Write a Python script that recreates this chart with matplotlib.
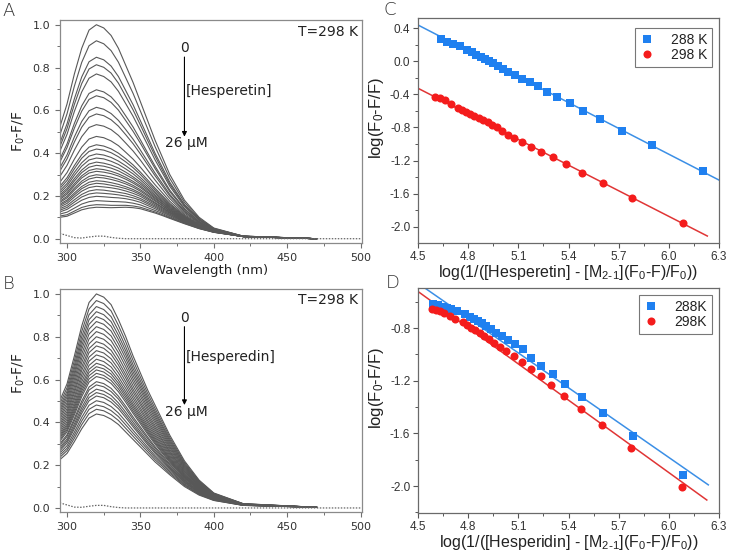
import matplotlib
matplotlib.use('Agg')
import matplotlib.pyplot as plt
import numpy as np
from matplotlib.ticker import MultipleLocator

plt.rcParams['axes.unicode_minus'] = False
plt.rcParams['font.family'] = ['DejaVu Sans']

# ---------------- data: fluorescence spectra (panels A, B) ----------------
wavelength = [295, 300, 305, 310, 315, 320, 325, 330, 335, 340, 345, 350, 355,
              360, 365, 370, 380, 390, 400, 420, 470]

hesperetin_spectra = [
    [.520, .630, .770, .890, .975, 1.00, .985, .950, .890, .810, .730, .640, .550, .460, .380, .300, .180, .100, .050, .012, 0],
    [.483, .584, .713, .824, .902, .925, .911, .879, .825, .752, .679, .596, .513, .430, .356, .282, .170, .095, .048, .012, 0],
    [.445, .537, .654, .756, .827, .848, .836, .807, .758, .692, .626, .551, .475, .399, .332, .264, .160, .091, .046, .012, 0],
    [.428, .515, .628, .725, .793, .813, .801, .774, .727, .665, .602, .531, .458, .386, .320, .255, .156, .088, .046, .012, 0],
    [.407, .488, .595, .686, .750, .770, .758, .733, .689, .631, .572, .505, .437, .368, .307, .245, .150, .086, .045, .011, 0],
    [.370, .443, .539, .621, .679, .696, .686, .663, .625, .574, .522, .462, .400, .339, .283, .227, .141, .081, .043, .011, 0],
    [.357, .426, .517, .596, .651, .668, .659, .637, .601, .552, .502, .446, .387, .328, .274, .220, .137, .079, .042, .011, 0],
    [.330, .392, .476, .548, .598, .614, .605, .585, .553, .510, .465, .414, .360, .306, .257, .207, .130, .076, .041, .011, 0],
    [.315, .373, .452, .521, .568, .583, .575, .556, .526, .486, .444, .396, .345, .294, .247, .200, .126, .074, .040, .011, 0],
    [.290, .343, .414, .477, .520, .533, .526, .510, .483, .447, .410, .367, .320, .274, .231, .188, .120, .071, .039, .011, 0],
    [.263, .309, .372, .428, .466, .478, .472, .457, .435, .404, .372, .334, .293, .252, .214, .175, .113, .068, .038, .011, 0],
    [.244, .285, .342, .393, .428, .439, .433, .420, .400, .374, .345, .311, .274, .236, .201, .165, .108, .065, .037, .011, 0],
    [.234, .272, .327, .376, .408, .419, .414, .402, .383, .359, .332, .300, .264, .228, .195, .160, .105, .064, .036, .011, 0],
    [.223, .258, .310, .355, .386, .396, .391, .380, .363, .341, .316, .286, .253, .219, .187, .155, .102, .062, .036, .011, 0],
    [.213, .247, .296, .339, .368, .377, .373, .362, .347, .326, .303, .275, .243, .212, .181, .150, .100, .061, .035, .011, 0],
    [.204, .235, .281, .321, .349, .358, .353, .344, .330, .311, .289, .264, .234, .204, .175, .146, .097, .060, .035, .010, 0],
    [.197, .226, .270, .309, .334, .343, .339, .330, .317, .299, .280, .255, .227, .198, .171, .142, .095, .059, .035, .010, 0],
    [.189, .216, .257, .294, .319, .327, .323, .315, .303, .287, .268, .246, .219, .192, .165, .138, .093, .058, .034, .010, 0],
    [.183, .208, .248, .284, .307, .315, .311, .304, .293, .278, .260, .239, .213, .187, .162, .135, .092, .057, .034, .010, 0],
    [.175, .198, .236, .269, .291, .299, .295, .288, .278, .265, .249, .229, .205, .181, .156, .131, .090, .056, .034, .010, 0],
    [.169, .191, .227, .259, .279, .287, .284, .277, .268, .256, .241, .222, .199, .176, .153, .129, .088, .056, .033, .010, 0],
    [.161, .181, .214, .244, .264, .271, .268, .262, .254, .243, .230, .213, .191, .169, .147, .125, .086, .055, .033, .010, 0],
    [.155, .174, .205, .234, .252, .259, .256, .250, .243, .234, .222, .206, .185, .165, .144, .122, .084, .054, .033, .010, 0],
    [.148, .165, .195, .222, .239, .245, .242, .238, .232, .223, .212, .198, .178, .159, .139, .119, .083, .053, .032, .010, 0],
    [.140, .155, .182, .207, .223, .229, .227, .222, .217, .211, .201, .188, .170, .153, .134, .115, .081, .052, .032, .010, 0],
    [.133, .146, .171, .195, .209, .214, .212, .209, .205, .199, .191, .180, .163, .147, .129, .111, .079, .051, .032, .010, 0],
    [.125, .137, .159, .180, .193, .198, .196, .193, .191, .187, .180, .170, .155, .140, .124, .107, .077, .050, .031, .010, 0],
    [.115, .124, .143, .162, .173, .178, .176, .174, .173, .171, .166, .158, .145, .132, .118, .102, .074, .049, .031, .010, 0],
    [.106, .112, .129, .146, .155, .159, .158, .156, .156, .156, .153, .147, .136, .125, .112, .098, .072, .048, .030, .010, 0],
    [.100, .105, .120, .135, .143, .147, .146, .145, .146, .147, .145, .140, .130, .120, .108, .095, .070, .047, .030, .010, 0],
]

hesperidin_spectra = [
    [.500, .580, .710, .850, .960, 1.00, .985, .950, .880, .800, .710, .630, .550, .480, .410, .340, .220, .130, .070, .020, .003],
    [.485, .562, .688, .824, .930, .969, .955, .921, .853, .776, .689, .611, .534, .465, .398, .330, .213, .126, .068, .020, .003],
    [.471, .546, .668, .800, .903, .941, .927, .894, .829, .753, .669, .594, .519, .452, .386, .321, .207, .123, .066, .019, .003],
    [.459, .532, .651, .779, .880, .917, .903, .871, .807, .734, .652, .579, .506, .441, .377, .313, .202, .120, .065, .019, .003],
    [.448, .519, .634, .759, .858, .894, .880, .849, .787, .716, .636, .565, .493, .430, .367, .305, .197, .117, .063, .018, .003],
    [.437, .505, .618, .740, .836, .871, .858, .827, .767, .698, .620, .551, .481, .419, .358, .297, .192, .114, .062, .018, .003],
    [.425, .491, .601, .719, .813, .847, .834, .804, .746, .679, .604, .536, .468, .408, .349, .289, .187, .111, .060, .018, .003],
    [.414, .478, .584, .699, .790, .824, .811, .782, .726, .660, .588, .522, .456, .397, .339, .282, .182, .108, .059, .017, .003],
    [.402, .464, .567, .679, .767, .800, .788, .759, .705, .641, .571, .507, .443, .385, .330, .274, .177, .105, .058, .017, .003],
    [.391, .451, .551, .659, .745, .777, .765, .737, .685, .623, .555, .493, .431, .375, .320, .266, .172, .102, .056, .017, .003],
    [.381, .439, .537, .642, .726, .757, .746, .718, .668, .607, .541, .481, .420, .365, .313, .260, .168, .100, .055, .017, .003],
    [.370, .427, .521, .623, .705, .735, .724, .697, .649, .590, .526, .467, .408, .355, .304, .253, .163, .097, .053, .016, .003],
    [.360, .415, .507, .606, .686, .715, .704, .678, .631, .574, .512, .455, .398, .345, .296, .246, .159, .094, .052, .016, .003],
    [.350, .403, .492, .589, .666, .695, .684, .659, .613, .558, .498, .442, .387, .336, .288, .239, .155, .092, .051, .016, .003],
    [.341, .392, .479, .573, .648, .676, .665, .641, .597, .543, .485, .431, .377, .327, .280, .233, .151, .090, .050, .015, .003],
    [.333, .383, .468, .559, .633, .660, .650, .626, .583, .530, .474, .421, .368, .319, .274, .228, .147, .088, .049, .015, .003],
    [.326, .374, .457, .546, .618, .645, .635, .611, .570, .518, .463, .412, .360, .312, .268, .223, .144, .086, .048, .015, .003],
    [.318, .365, .446, .533, .603, .629, .619, .596, .556, .506, .452, .402, .352, .305, .261, .218, .141, .084, .047, .015, .003],
    [.311, .356, .435, .520, .588, .614, .605, .582, .543, .494, .442, .393, .344, .298, .255, .213, .137, .082, .046, .014, .003],
    [.299, .342, .418, .499, .565, .590, .581, .559, .522, .475, .425, .378, .331, .286, .246, .205, .132, .079, .044, .014, .003],
    [.292, .334, .407, .486, .551, .575, .566, .544, .509, .463, .414, .368, .323, .279, .239, .200, .129, .077, .043, .014, .003],
    [.282, .322, .393, .469, .532, .555, .546, .526, .491, .447, .401, .356, .312, .270, .232, .193, .125, .074, .042, .014, .003],
    [.274, .313, .381, .455, .516, .539, .530, .510, .477, .434, .389, .346, .303, .262, .225, .188, .121, .072, .041, .013, .003],
    [.266, .304, .370, .442, .501, .523, .515, .495, .464, .422, .379, .337, .295, .255, .219, .183, .118, .071, .040, .013, .003],
    [.256, .291, .354, .423, .480, .501, .493, .474, .444, .404, .363, .323, .283, .244, .210, .176, .113, .068, .039, .013, .003],
    [.246, .279, .340, .406, .461, .481, .473, .455, .427, .388, .349, .311, .273, .235, .202, .169, .109, .065, .038, .013, .003],
    [.236, .268, .326, .389, .441, .461, .454, .436, .409, .372, .335, .298, .262, .225, .194, .162, .105, .063, .036, .012, .003],
    [.225, .255, .310, .370, .420, .439, .432, .415, .390, .355, .320, .285, .250, .215, .185, .155, .100, .060, .035, .012, .003],
]

blank_wl = [295, 300, 305, 310, 315, 320, 325, 330, 335, 340, 500]
blank_A = [0.025, 0.015, 0.005, 0.003, 0.008, 0.012, 0.012, 0.006, 0.002, 0.0, 0.0]
blank_B = [0.024, 0.014, 0.004, 0.003, 0.008, 0.012, 0.012, 0.006, 0.002, 0.0, 0.0]

# ---------------- data: double-log plots (panels C, D) ----------------
C_x_288 = [4.639, 4.675, 4.709, 4.749, 4.793, 4.823, 4.849, 4.875, 4.899, 4.925, 4.950, 4.978, 5.010,
           5.038, 5.078, 5.124, 5.172, 5.218, 5.272, 5.333, 5.407, 5.489, 5.588, 5.718, 5.898, 6.206]
C_y_288 = [0.268, 0.235, 0.212, 0.180, 0.138, 0.108, 0.080, 0.054, 0.028, 0.000, -0.028, -0.060, -0.096,
           -0.125, -0.166, -0.210, -0.255, -0.300, -0.367, -0.429, -0.504, -0.596, -0.700, -0.837, -1.017, -1.327]
C_x_298 = [4.602, 4.632, 4.663, 4.696, 4.741, 4.761, 4.787, 4.811, 4.837, 4.863, 4.891, 4.917, 4.944,
           4.971, 5.001, 5.036, 5.076, 5.124, 5.178, 5.236, 5.307, 5.383, 5.481, 5.604, 5.780, 6.083]
C_y_298 = [-0.430, -0.450, -0.472, -0.520, -0.570, -0.590, -0.614, -0.636, -0.662, -0.686, -0.712, -0.738, -0.768,
           -0.797, -0.838, -0.885, -0.925, -0.970, -1.030, -1.090, -1.158, -1.240, -1.344, -1.466, -1.646, -1.950]

D_x_288 = [4.590, 4.620, 4.650, 4.675, 4.699, 4.735, 4.779, 4.809, 4.835, 4.859, 4.883, 4.908, 4.938,
           4.968, 5.004, 5.038, 5.082, 5.126, 5.178, 5.237, 5.306, 5.381, 5.479, 5.605, 5.784, 6.087]
D_y_288 = [-0.620, -0.625, -0.638, -0.646, -0.656, -0.671, -0.696, -0.714, -0.732, -0.747, -0.764, -0.785, -0.810,
           -0.836, -0.861, -0.891, -0.924, -0.962, -1.026, -1.089, -1.152, -1.227, -1.322, -1.443, -1.620, -1.916]
D_x_298 = [4.584, 4.610, 4.630, 4.656, 4.690, 4.723, 4.769, 4.795, 4.819, 4.843, 4.869, 4.895, 4.925,
           4.955, 4.989, 5.028, 5.074, 5.122, 5.174, 5.234, 5.297, 5.373, 5.475, 5.599, 5.772, 6.077]
D_y_298 = [-0.656, -0.663, -0.671, -0.686, -0.705, -0.728, -0.758, -0.777, -0.796, -0.815, -0.838, -0.861, -0.887,
           -0.914, -0.944, -0.978, -1.016, -1.060, -1.108, -1.165, -1.232, -1.316, -1.417, -1.537, -1.709, -2.010]

# linear fits: slope, intercept, x-start, x-end
C_fit_288 = [-1.039, 5.1115, 4.50, 6.30]
C_fit_298 = [-1.030, 4.308, 4.50, 6.23]
D_fit_288 = [-0.882, 3.509, 4.50, 6.236]
D_fit_298 = [-0.917, 3.604, 4.50, 6.227]

C_labels = ['288 K', '298 K']
D_labels = ['288K', '298K']

# ---------------- figure ----------------
fig = plt.figure(figsize=(7.29, 5.53), dpi=100)

axA = fig.add_axes([0.0823, 0.5606, 0.4143, 0.4032])
axB = fig.add_axes([0.0823, 0.0741, 0.4143, 0.4033])
axC = fig.add_axes([0.5734, 0.5606, 0.4129, 0.4069])
axD = fig.add_axes([0.5734, 0.0723, 0.4129, 0.4069])

SPEC_COL = '#585858'


def style_spec(ax, spectra, blank, ylim, ylab_y):
    for row in spectra:
        ax.plot(wavelength, row, color=SPEC_COL, lw=0.8)
    ax.plot(blank_wl, blank, color='#666666', lw=0.9, ls=(0, (1.2, 1.2)))
    ax.set_xlim(295.2, 501)
    ax.set_ylim(*ylim)
    ax.set_xticks([300, 350, 400, 450, 500])
    ax.set_xticklabels(['300', '350', '400', '450', '500'])
    ax.set_yticks([0.0, 0.2, 0.4, 0.6, 0.8, 1.0])
    ax.set_yticklabels(['0.0', '0.2', '0.4', '0.6', '0.8', '1.0'])
    ax.xaxis.set_minor_locator(MultipleLocator(25))
    ax.yaxis.set_minor_locator(MultipleLocator(0.1))
    ax.tick_params(which='both', direction='out', color='#707070', labelsize=8, labelcolor='#333333')
    ax.tick_params(which='major', length=3.5, width=0.8)
    ax.tick_params(which='minor', length=2, width=0.7)
    for s in ax.spines.values():
        s.set_color('#8a8a8a')
        s.set_linewidth(0.9)
    ax.set_ylabel(r'F$\mathregular{_0}$-F/F', fontsize=10, color='#222222')
    ax.yaxis.set_label_coords(-0.108, ylab_y)


style_spec(axA, hesperetin_spectra, blank_A, (-0.020, 1.022), 0.5)
style_spec(axB, hesperidin_spectra, blank_B, (-0.019, 1.023), 0.62)
axA.set_xlabel('Wavelength (nm)', fontsize=9.5, color='#222222', labelpad=1)

for ax, txt, y0, yt, ya0, ya1, yh, y26 in [
        (axA, '[Hesperetin]', 0.89, 0.967, 0.849, 0.477, 0.692, 0.449),
        (axB, '[Hesperedin]', 0.889, 0.972, 0.847, 0.481, 0.704, 0.450)]:
    ax.text(498.5, yt, 'T=298 K', ha='right', va='center', fontsize=10, color='#222222')
    ax.text(380, y0, '0', ha='center', va='center', fontsize=10, color='#222222')
    ax.annotate('', xy=(380, ya1), xytext=(380, ya0),
                arrowprops=dict(arrowstyle='-|>', color='black', lw=0.8, mutation_scale=7,
                                shrinkA=0, shrinkB=0))
    ax.text(380.8, yh, txt, ha='left', va='center', fontsize=10, color='#222222')
    ax.text(381.6, y26, '26 µM', ha='center', va='center', fontsize=10, color='#222222')

# ---------------- panels C and D ----------------
BLUE_M, RED_M = '#1f80f0', '#f41c1c'
BLUE_L, RED_L = '#3b8fe6', '#e03535'
ARIAL = 'Liberation Sans'


def style_log(ax, xb, yb, xr, yr, fb, fr, labels, ylim, yticks, xname, leg_top):
    for fit, col in [(fb, BLUE_L), (fr, RED_L)]:
        xs = np.array([fit[2], fit[3]])
        ax.plot(xs, fit[0] * xs + fit[1], color=col, lw=1.1, zorder=2)
    hb, = ax.plot(xb, yb, 's', color=BLUE_M, ms=5.3, mew=0, zorder=3, label=labels[0])
    hr, = ax.plot(xr, yr, 'o', color=RED_M, ms=5.8, mew=0, zorder=3, label=labels[1])
    ax.set_xlim(4.5, 6.3)
    ax.set_ylim(*ylim)
    xt = [4.5, 4.8, 5.1, 5.4, 5.7, 6.0, 6.3]
    ax.set_xticks(xt)
    ax.set_xticklabels(['%.1f' % v for v in xt], fontfamily=ARIAL, fontsize=8.5)
    ax.set_yticks(yticks)
    ax.set_yticklabels(['%.1f' % v for v in yticks], fontfamily=ARIAL, fontsize=8.5)
    ax.xaxis.set_minor_locator(MultipleLocator(0.15))
    ax.yaxis.set_minor_locator(MultipleLocator(0.2))
    ax.tick_params(which='both', direction='out', color='#555555', labelcolor='#333333')
    ax.tick_params(which='major', length=3.5, width=0.8, pad=2)
    ax.tick_params(which='minor', length=2, width=0.7)
    for s in ax.spines.values():
        s.set_color('#6a6a6a')
        s.set_linewidth(0.9)
    ax.set_xlabel(r'log(1/([%s] - [M$\mathregular{_{2\text{-}1}}$](F$\mathregular{_0}$-F)/F$\mathregular{_0}$))' % xname,
                  fontfamily=ARIAL, fontsize=11.5, color='#222222', labelpad=0)
    ax.set_ylabel(r'log(F$\mathregular{_0}$-F/F)', fontfamily=ARIAL, fontsize=12, color='#222222')
    ax.yaxis.set_label_coords(-0.105, 0.555)
    leg = ax.legend(handles=[hb, hr], loc='upper right', bbox_to_anchor=(0.977, leg_top),
                    prop={'family': ARIAL, 'size': 10}, frameon=True, fancybox=False,
                    edgecolor='#555555', handlelength=1.0, handletextpad=1.2, borderpad=0.35,
                    labelspacing=0.1, borderaxespad=0)
    leg.get_frame().set_linewidth(0.8)
    for t in leg.get_texts():
        t.set_color('#222222')


style_log(axC, C_x_288, C_y_288, C_x_298, C_y_298, C_fit_288, C_fit_298, C_labels,
          (-2.193, 0.521), [-2.0, -1.6, -1.2, -0.8, -0.4, 0.0, 0.4], 'Hesperetin', 0.956)
style_log(axD, D_x_288, D_y_288, D_x_298, D_y_298, D_fit_288, D_fit_298, D_labels,
          (-2.205, -0.496), [-2.0, -1.6, -1.2, -0.8], 'Hesperidin', 0.969)

# panel letters
for lab, x, y in [('A', 8.5, 11), ('B', 8.5, 284), ('C', 390, 10), ('D', 393, 283)]:
    fig.text(x / 729, 1 - y / 553, lab, ha='center', va='center', fontsize=13,
             color='#333333', fontweight='light')

fig.savefig('out.png', dpi=100)
